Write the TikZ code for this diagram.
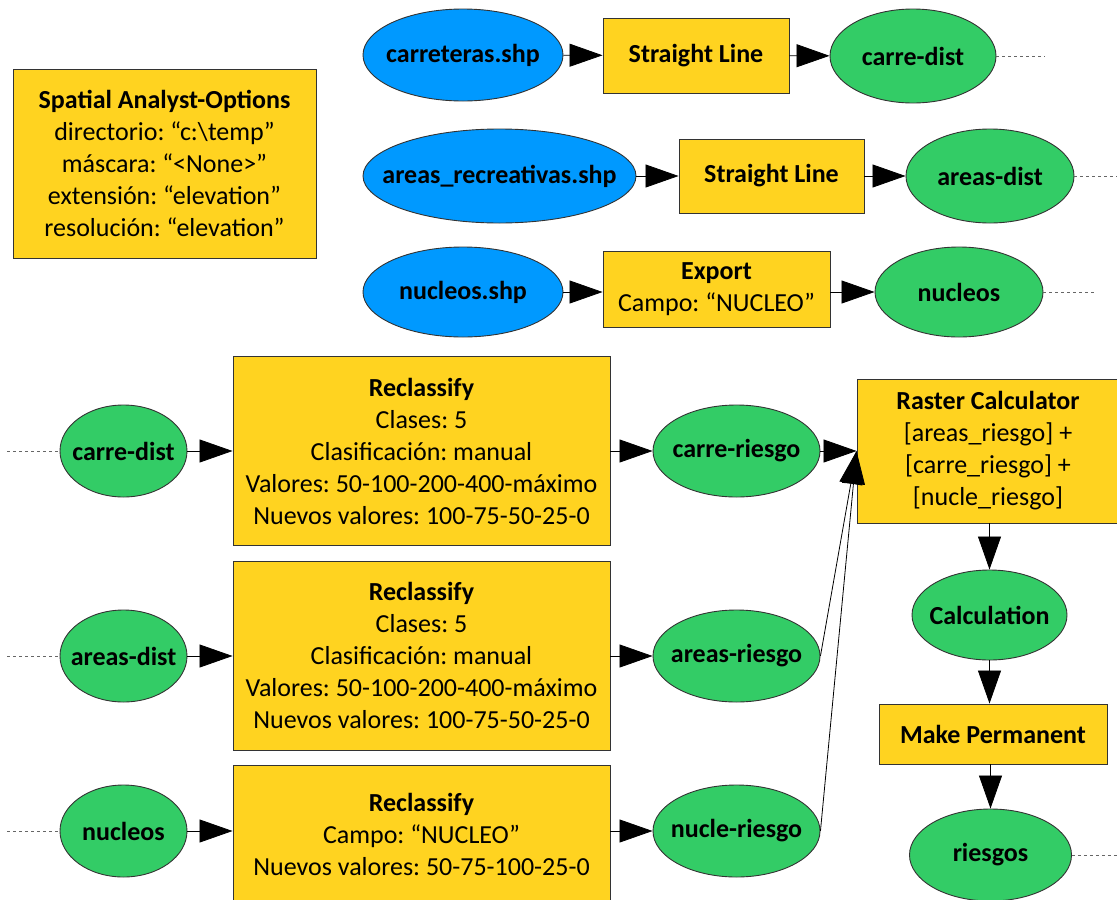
\documentclass[tikz,border=0pt]{standalone}
\usepackage{fontspec}
\setmainfont{Carlito}
\usetikzlibrary{shapes.geometric,arrows.meta}
\definecolor{ylw}{RGB}{255,211,32}
\definecolor{blu}{RGB}{0,153,255}
\definecolor{grn}{RGB}{51,204,102}
\frenchspacing
\newcommand{\zb}[1]{\makebox[0pt][c]{#1}}
\tikzset{
  base/.style={draw=black!80, line width=0.9pt, font=\fontsize{26}{32}\selectfont\frenchspacing, align=center, inner sep=0pt},
  proc/.style={base, fill=ylw, rectangle},
  inp/.style={base, fill=blu, ellipse, font=\fontsize{26}{32}\selectfont\bfseries},
  outp/.style={base, fill=grn, ellipse, font=\fontsize{26}{32}\selectfont\bfseries},
  arr/.style={draw=black, line width=0.8pt, -{Triangle[length=33pt,width=23pt]}},
  dots/.style={draw=black!60, line width=0.8pt, dash pattern=on 3pt off 3pt}
}
\begin{document}
\begin{tikzpicture}[x=1pt,y=-1pt]
\useasboundingbox (0,0) rectangle (1117,900);
% options box
\node[proc, minimum width=303pt, minimum height=189pt] (opt) at (164.5,163.5)
  {\textbf{Spatial Analyst-Options}\\directorio: “c:\textbackslash temp”\\máscara: “<None>”\\extensión: “elevation”\\resolución: “elevation”};
% top rows
\node[inp, minimum width=200pt, minimum height=92pt] (carr) at (463,55) {\zb{carreteras.shp}};
\node[proc, minimum width=186pt, minimum height=75pt] (sl1) at (696,55.5) {\textbf{Straight Line}};
\node[outp, minimum width=166pt, minimum height=94pt] (cd1) at (913,56) {\zb{carre-dist}};
\coordinate (cd1e) at (1045,56);

\node[inp, minimum width=273pt, minimum height=94pt] (arec) at (499.5,176) {\zb{areas\_recreativas.shp}};
\node[proc, minimum width=185pt, minimum height=74pt] (sl2) at (771.5,176) {\textbf{Straight Line}};
\node[outp, minimum width=168pt, minimum height=94pt] (ad1) at (990,176) {\zb{areas-dist}};
\coordinate (ad1e) at (1117,176);

\node[inp, minimum width=200pt, minimum height=90pt] (nshp) at (463,292) {\zb{nucleos.shp}};
\node[proc, minimum width=227pt, minimum height=76pt] (exp) at (716.5,289) {\textbf{Export}\\Campo: “NUCLEO”};
\node[outp, minimum width=168pt, minimum height=90pt] (nu1) at (959,292) {\zb{nucleos}};
\coordinate (nu1e) at (1097,292);

\draw[arr] (carr) -- (sl1);
\draw[arr] (sl1) -- (cd1);
\draw[dots] (cd1) -- (cd1e);
\draw[arr] (arec) -- (sl2);
\draw[arr] (sl2) -- (ad1);
\draw[dots] (ad1) -- (ad1e);
\draw[arr] (nshp.east) -- (nshp.east -| exp.west);
\draw[arr] (exp.east |- nu1.west) -- (nu1.west);
\draw[dots] (nu1) -- (nu1e);

% bottom
\coordinate (cd2w) at (7,451);
\coordinate (ad2w) at (7,656);
\coordinate (nu2w) at (7,831);
\node[outp, minimum width=127pt, minimum height=92pt] (cd2) at (123.5,451) {\zb{carre-dist}};
\node[outp, minimum width=127pt, minimum height=92pt] (ad2) at (123.5,656) {\zb{areas-dist}};
\node[outp, minimum width=127pt, minimum height=92pt] (nu2) at (123.5,831) {\zb{nucleos}};

\node[proc, minimum width=377pt, minimum height=189pt] (rc1) at (421.5,451)
  {\textbf{Reclassify}\\Clases: 5\\Clasificación: manual\\Valores: 50-100-200-400-máximo\\Nuevos valores: 100-75-50-25-0};
\node[proc, minimum width=377pt, minimum height=189pt] (rc2) at (421.5,655.5)
  {\textbf{Reclassify}\\Clases: 5\\Clasificación: manual\\Valores: 50-100-200-400-máximo\\Nuevos valores: 100-75-50-25-0};
\node[proc, minimum width=377pt, minimum height=138pt] (rc3) at (421.5,834)
  {\textbf{Reclassify}\\Campo: “NUCLEO”\\Nuevos valores: 50-75-100-25-0};

\node[outp, minimum width=167pt, minimum height=92pt] (cr) at (736.5,451) {\zb{carre-riesgo}};
\node[outp, minimum width=167pt, minimum height=92pt] (ar) at (736.5,656) {\zb{areas-riesgo}};
\node[outp, minimum width=167pt, minimum height=92pt] (nr) at (736.5,831) {\zb{nucle-riesgo}};

\node[proc, minimum width=262pt, minimum height=144pt] (calc) at (988,451)
  {\textbf{Raster Calculator}\\{[}areas\_riesgo{]} +\\{[}carre\_riesgo{]} +\\{[}nucle\_riesgo{]}};
\node[outp, minimum width=155pt, minimum height=90pt] (cal) at (989.5,615) {\zb{Calculation}};
\node[proc, minimum width=228pt, minimum height=60pt] (mp) at (993,734) {\textbf{Make Permanent}};
\node[outp, minimum width=162pt, minimum height=92pt] (rs) at (990.5,855) {\zb{riesgos}};
\coordinate (rse) at (1117,855);

\draw[dots] (cd2w) -- (cd2);
\draw[dots] (ad2w) -- (ad2);
\draw[dots] (nu2w) -- (nu2);
\draw[arr] (cd2.east) -- (cd2.east -| rc1.west);
\draw[arr] (ad2.east) -- (ad2.east -| rc2.west);
\draw[arr] (nu2.east) -- (nu2.east -| rc3.west);
\draw[arr] (rc1.east |- cr.west) -- (cr.west);
\draw[arr] (rc2.east |- ar.west) -- (ar.west);
\draw[arr] (rc3.east |- nr.west) -- (nr.west);
\draw[arr] (cr.east) -- (calc.west);
\draw[arr] (ar.east) -- (calc.west);
\draw[arr] (nr.east) -- (calc.west);
\draw[arr] (calc.south -| cal.north) -- (cal.north);
\draw[arr] (cal.south) -- (cal.south |- mp.north);
\draw[arr] (mp.south -| rs.north) -- (rs.north);
\draw[dots] (rs) -- (rse);
\end{tikzpicture}
\end{document}
